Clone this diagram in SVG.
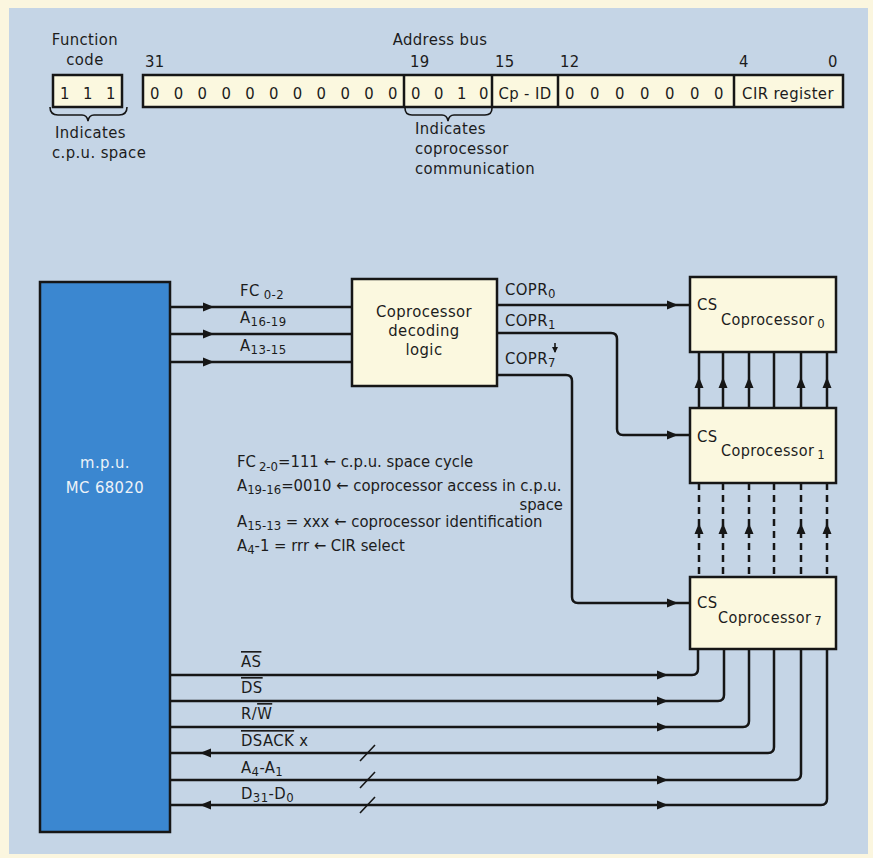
<svg xmlns="http://www.w3.org/2000/svg" xmlns:xlink="http://www.w3.org/1999/xlink" width="873" height="858" viewBox="0 0 873 858">
<style>
text{font-family:"DejaVu Sans Condensed","Liberation Sans Narrow","DejaVu Sans",sans-serif;fill:#1c1c1c;font-size:16.5px;letter-spacing:0.4px}
.sm{font-size:16px}
.sub{font-size:13px}
.note{letter-spacing:0}
.box{fill:#fbf8df;stroke:#161616;stroke-width:2.5}
.ln{fill:none;stroke:#161616;stroke-width:2.5;stroke-linejoin:round}
.dash{fill:none;stroke:#161616;stroke-width:2.5;stroke-dasharray:7 5}
.thin{fill:none;stroke:#161616;stroke-width:1.6}
.ov{text-decoration:overline}
.mid{text-anchor:middle}
</style>
<defs>
<path id="ah" d="M-11,-4.5 L0,0 L-11,4.5 Z" fill="#161616"/>
</defs>
<rect x="0" y="0" width="873" height="858" fill="#fbf6df"/>
<rect x="9" y="8" width="859" height="846" fill="#c5d5e6"/>

<g id="function-code">
<text x="85" y="45" class="mid">Function</text>
<text x="85" y="65" class="mid">code</text>
<rect x="53" y="75" width="69" height="32" class="box"/>
<text x="60 83 106" y="99">111</text>
<path class="thin" d="M50,107 Q50,115 58,115 H82 Q87,115 88,121 Q89,115 94,115 H119 Q127,115 127,107"/>
<text x="55" y="138">Indicates</text>
<text x="52" y="158">c.p.u. space</text>
</g>

<g id="address-bus">
<text x="440" y="45" class="mid">Address bus</text>
<text x="145" y="67">31</text>
<text x="410" y="67">19</text>
<text x="495" y="67">15</text>
<text x="560" y="67">12</text>
<text x="739" y="67">4</text>
<text x="828" y="67">0</text>
<rect x="143" y="75" width="700" height="32" class="box"/>
<path class="ln" d="M404,75 V107 M492,75 V107 M558,75 V107 M734,75 V107"/>
<text x="150 173.8 197.6 221.4 245.2 269 292.8 316.6 340.4 364.2 388" y="99">00000000000</text>
<text x="411 434 457 479" y="99">0010</text>
<text x="525" y="99" class="mid">Cp - ID</text>
<text x="565 590 615 640 665 690 714" y="99">0000000</text>
<text x="788" y="99" class="mid">CIR register</text>
<path class="thin" d="M405,108 Q405,115 412,115 H442 Q447,115 448,121 Q449,115 454,115 H485 Q492,115 492,108"/>
<text x="415" y="134">Indicates</text>
<text x="415" y="154">coprocessor</text>
<text x="415" y="174">communication</text>
</g>

<g id="mpu">
<rect x="40" y="282" width="130" height="550" fill="#3b87d0" stroke="#161616" stroke-width="2.5"/>
<text x="105" y="468" class="mid" style="fill:#eef3f8">m.p.u.</text>
<text x="105" y="493" class="mid" style="fill:#eef3f8">MC 68020</text>
</g>

<g id="decoding-logic">
<rect x="352" y="279" width="145" height="107" class="box"/>
<text x="424" y="317" class="mid">Coprocessor</text>
<text x="424" y="336" class="mid">decoding</text>
<text x="424" y="355" class="mid">logic</text>
</g>

<g id="coprocessor-0">
<rect x="690" y="277" width="146" height="75" class="box"/>
<text x="697" y="310">CS</text>
<text x="721" y="325" class="sm">Coprocessor<tspan class="sub" dx="3" dy="3">0</tspan></text>
</g>
<g id="coprocessor-1">
<rect x="690" y="408" width="146" height="75" class="box"/>
<text x="697" y="442">CS</text>
<text x="721" y="456" class="sm">Coprocessor<tspan class="sub" dx="3" dy="3">1</tspan></text>
</g>
<g id="coprocessor-7">
<rect x="690" y="577" width="146" height="72" class="box"/>
<text x="697" y="608">CS</text>
<text x="718" y="623" class="sm">Coprocessor<tspan class="sub" dx="3" dy="2">7</tspan></text>
</g>

<g id="connectors">
<path class="ln" d="M170,307 H352 M170,334 H352 M170,362 H352"/>
<use xlink:href="#ah" transform="translate(214,307)"/>
<use xlink:href="#ah" transform="translate(214,334)"/>
<use xlink:href="#ah" transform="translate(214,362)"/>
<path class="ln" d="M497,305 H690"/>
<path class="ln" d="M497,333 H611 Q617,333 617,339 V429 Q617,435 623,435 H690"/>
<path class="ln" d="M497,375 H566 Q572,375 572,381 V597 Q572,603 578,603 H690"/>
<use xlink:href="#ah" transform="translate(678,305)"/>
<use xlink:href="#ah" transform="translate(678,435)"/>
<use xlink:href="#ah" transform="translate(678,603)"/>
<path class="thin" d="M555,343 V352"/>
<path d="M552,347 L555,353 L558,347 Z" fill="#161616"/>

<path class="ln" d="M699,352 V408 M723,352 V408 M749,352 V408 M774,352 V408 M801,352 V408 M827,352 V408"/>
<use xlink:href="#ah" transform="translate(699,377) rotate(-90)"/>
<use xlink:href="#ah" transform="translate(723,377) rotate(-90)"/>
<use xlink:href="#ah" transform="translate(749,377) rotate(-90)"/>
<use xlink:href="#ah" transform="translate(801,377) rotate(-90)"/>
<use xlink:href="#ah" transform="translate(827,377) rotate(-90)"/>
<path class="dash" d="M699,483 V577 M723,483 V577 M749,483 V577 M774,483 V577 M801,483 V577 M827,483 V577"/>
<use xlink:href="#ah" transform="translate(699,523) rotate(-90)"/>
<use xlink:href="#ah" transform="translate(723,523) rotate(-90)"/>
<use xlink:href="#ah" transform="translate(749,523) rotate(-90)"/>
<use xlink:href="#ah" transform="translate(801,523) rotate(-90)"/>
<use xlink:href="#ah" transform="translate(827,523) rotate(-90)"/>

<path class="ln" d="M698,649 V669 Q698,675 692,675 H170"/>
<path class="ln" d="M724,649 V695 Q724,701 718,701 H170"/>
<path class="ln" d="M749,649 V721 Q749,727 743,727 H170"/>
<path class="ln" d="M774,649 V747 Q774,753 768,753 H170"/>
<path class="ln" d="M801,649 V774 Q801,780 795,780 H170"/>
<path class="ln" d="M827,649 V799 Q827,805 821,805 H170"/>
<use xlink:href="#ah" transform="translate(668,675)"/>
<use xlink:href="#ah" transform="translate(668,701)"/>
<use xlink:href="#ah" transform="translate(668,727)"/>
<use xlink:href="#ah" transform="translate(200,753) rotate(180)"/>
<use xlink:href="#ah" transform="translate(668,780)"/>
<use xlink:href="#ah" transform="translate(668,805)"/>
<use xlink:href="#ah" transform="translate(200,805) rotate(180)"/>
<path class="thin" d="M360,761 L375,745 M360,788 L375,772 M360,813 L375,797"/>
</g>

<g id="signal-labels">
<text x="240" y="296">FC<tspan class="sub" dx="4" dy="3">0-2</tspan></text>
<text x="240" y="323">A<tspan class="sub" dy="3">16-19</tspan></text>
<text x="240" y="351">A<tspan class="sub" dy="3">13-15</tspan></text>
<text x="505" y="295">COPR<tspan class="sub" dy="3">0</tspan></text>
<text x="505" y="326">COPR<tspan class="sub" dy="3">1</tspan></text>
<text x="505" y="364">COPR<tspan class="sub" dy="3">7</tspan></text>
<text x="241" y="667" class="ov">AS</text>
<text x="241" y="693" class="ov">DS</text>
<text x="241" y="719">R/<tspan class="ov">W</tspan></text>
<text x="241" y="746"><tspan class="ov">DSACK</tspan> x</text>
<text x="241" y="773">A<tspan class="sub" dy="3">4</tspan><tspan dy="-3">-A</tspan><tspan class="sub" dy="3">1</tspan></text>
<text x="241" y="799">D<tspan class="sub" dy="3">31</tspan><tspan dy="-3">-D</tspan><tspan class="sub" dy="3">0</tspan></text>
</g>

<g id="notes">
<text x="237" y="467" class="note">FC<tspan class="sub" dx="3" dy="4">2-0</tspan><tspan dy="-4">=111 ← c.p.u. space cycle</tspan></text>
<text x="237" y="491" class="note">A<tspan class="sub" dy="3">19-16</tspan><tspan dy="-3">=0010 ← coprocessor access in c.p.u.</tspan></text>
<text x="563" y="510" class="note" text-anchor="end">space</text>
<text x="237" y="527" class="note">A<tspan class="sub" dy="3">15-13</tspan><tspan dy="-3"> = xxx ← coprocessor  identification</tspan></text>
<text x="237" y="551" class="note">A<tspan class="sub" dy="3">4</tspan><tspan dy="-3">-1 = rrr ← CIR select</tspan></text>
</g>
</svg>
